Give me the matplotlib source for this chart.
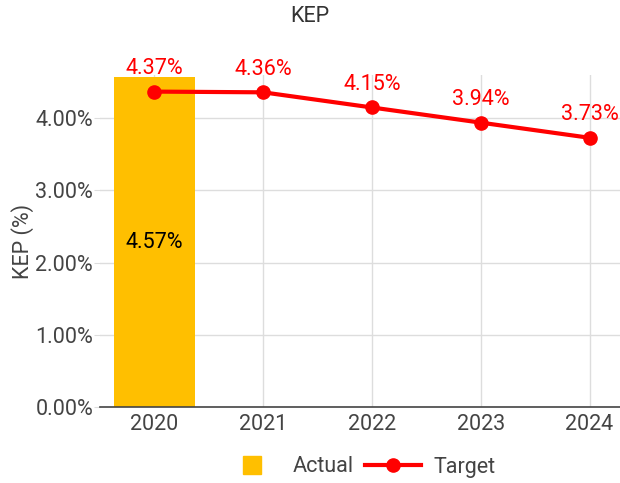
import matplotlib.pyplot as plt
from matplotlib.lines import Line2D
import numpy as np

plt.rcParams['font.family'] = ['Roboto', 'DejaVu Sans']

years = ["2020", "2021", "2022", "2023", "2024"]
actual = [4.57]
target = [4.37, 4.36, 4.15, 3.94, 3.73]

x = np.arange(len(years))
fs = 15.5

fig = plt.figure(figsize=(6.2, 4.83), dpi=100)
ax = fig.add_axes([100/620, 1 - 407/483, 520/620, (407 - 75)/483])

ax.bar(x[:1], actual, width=0.75, color="#FFBF00", zorder=2)
ax.plot(x, target, color="#FF0000", lw=3, marker="o", ms=9.5, zorder=3)

for xi, v in zip(x[:1], actual):
    ax.text(xi, v / 2, "{:.2f}%".format(v), ha="center", va="center", fontsize=fs, color="black", zorder=4)
for xi, v in zip(x, target):
    ax.annotate("{:.2f}%".format(v), (xi, v), xytext=(0, 9), textcoords="offset points",
                ha="center", va="bottom", fontsize=fs, color="#FF0000", zorder=4)

ax.set_xlim(-0.5, 4.28)
ax.set_ylim(0, 4.6)
ax.set_xticks(x)
ax.set_xticklabels(years)
ax.set_yticks(np.arange(0, 5, 1))
ax.set_yticklabels(["{:.2f}%".format(v) for v in np.arange(0, 5, 1)])

ax.grid(True, color="#DDDDDD", lw=1, zorder=0)
ax.set_axisbelow(True)
for s in ["top", "right", "left"]:
    ax.spines[s].set_visible(False)
ax.spines["bottom"].set_color("#444444")
ax.spines["bottom"].set_linewidth(1.2)
ax.tick_params(axis="y", length=4, color="#DDDDDD", labelsize=fs, labelcolor="#444444", pad=1)
ax.tick_params(axis="x", length=0, labelsize=fs, labelcolor="#444444", pad=5)

ax.set_ylabel("KEP (%)", fontsize=fs, color="#444444", labelpad=1)
fig.text(0.5, 1 - 17/483, "KEP", ha="center", va="center", fontsize=fs, color="#333333")

handles = [
    Line2D([], [], ls="none", marker="s", ms=13, color="#FFBF00"),
    Line2D([], [], color="#FF0000", lw=3, marker="o", ms=9.5),
]
fig.legend(handles, ["Actual", "Target"], loc="center", bbox_to_anchor=(360/620, 1 - 467/483), ncol=2,
           frameon=False, fontsize=fs, labelcolor="#444444", handlelength=2.6,
           columnspacing=0.5, handletextpad=0.6)

fig.savefig("out.png", dpi=100)
